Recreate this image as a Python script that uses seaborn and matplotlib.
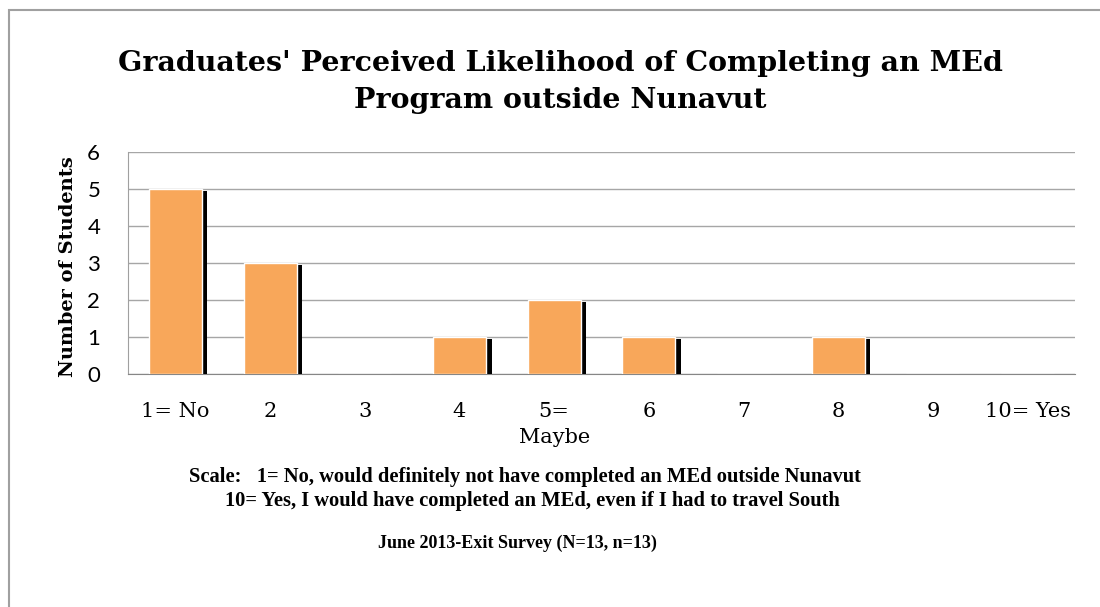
import matplotlib
matplotlib.use('agg')
import matplotlib.pyplot as plt
import matplotlib.patheffects as pe
from matplotlib.patches import Rectangle
import pandas as pd
import seaborn as sns

# data
categories = ['1= No', '2', '3', '4', '5=\nMaybe', '6', '7', '8', '9', '10= Yes']
students = [5, 3, 0, 1, 2, 1, 0, 1, 0, 0]

sns.set_style('white')
plt.rcParams['font.family'] = ['DejaVu Serif']
plt.rcParams['text.color'] = 'black'
plt.rcParams['xtick.color'] = 'black'
plt.rcParams['ytick.color'] = 'black'

df = pd.DataFrame({'rating': categories, 'students': students})

fig = plt.figure(figsize=(11, 6.07), dpi=100)
ax = fig.add_axes([128/1100, 1 - 374/607, (1075-128)/1100, (374-152)/607])

sns.barplot(data=df, x='rating', y='students', color='#F8A75A', saturation=1,
            width=0.56, edgecolor='white', linewidth=1, ax=ax, zorder=3)

# black drop shadow on each bar
for p in ax.patches:
    if p.get_height() > 0:
        p.set_path_effects([pe.SimplePatchShadow(offset=(4, -1.5), shadow_rgbFace='black', alpha=1.0),
                            pe.Normal()])

ax.set_ylim(0, 6)
ax.set_yticks(range(0, 7))
ax.yaxis.grid(True, color='#A6A6A6', linewidth=1)
ax.set_axisbelow(True)
for s in ['top', 'right']:
    ax.spines[s].set_visible(False)
ax.spines['left'].set_color('#A0A0A0')
ax.spines['bottom'].set_color('#868686')
ax.tick_params(axis='both', length=0)
ax.tick_params(axis='y', pad=20)
ax.tick_params(axis='x', pad=20)
for t in ax.get_yticklabels():
    t.set_family('Lato')
    t.set_fontsize(16)
for t in ax.get_xticklabels():
    t.set_fontsize(15)
    t.set_linespacing(1.45)
ax.set_xlabel('')
ax.set_ylabel('')

fig.text(68/1100, 1 - 267/607, 'Number of Students', rotation=90, ha='center', va='center',
         fontsize=14, fontweight='bold')

fig.text(560/1100, 1 - 82/607, "Graduates' Perceived Likelihood of Completing an MEd\nProgram outside Nunavut",
         ha='center', va='center', fontsize=20.5, fontweight='bold', linespacing=1.45)

fig.text(189/1100, 1 - 477/607, 'Scale:   1= No, would definitely not have completed an MEd outside Nunavut',
         ha='left', va='center', fontsize=14.8, fontweight='bold', family='Liberation Serif')
fig.text(225/1100, 1 - 501/607, '10= Yes, I would have completed an MEd, even if I had to travel South',
         ha='left', va='center', fontsize=14.8, fontweight='bold', family='Liberation Serif')
fig.text(517/1100, 1 - 543/607, 'June 2013-Exit Survey (N=13, n=13)',
         ha='center', va='center', fontsize=13, fontweight='bold', family='Liberation Serif')

# chart frame, cut off at the right and bottom
fig.patches.append(Rectangle((9/1100, -0.05), 1.2, 1 - 10/607 + 0.05, transform=fig.transFigure,
                             fill=False, edgecolor='#A0A0A0', linewidth=1.5))

fig.savefig('out.png', dpi=100)
